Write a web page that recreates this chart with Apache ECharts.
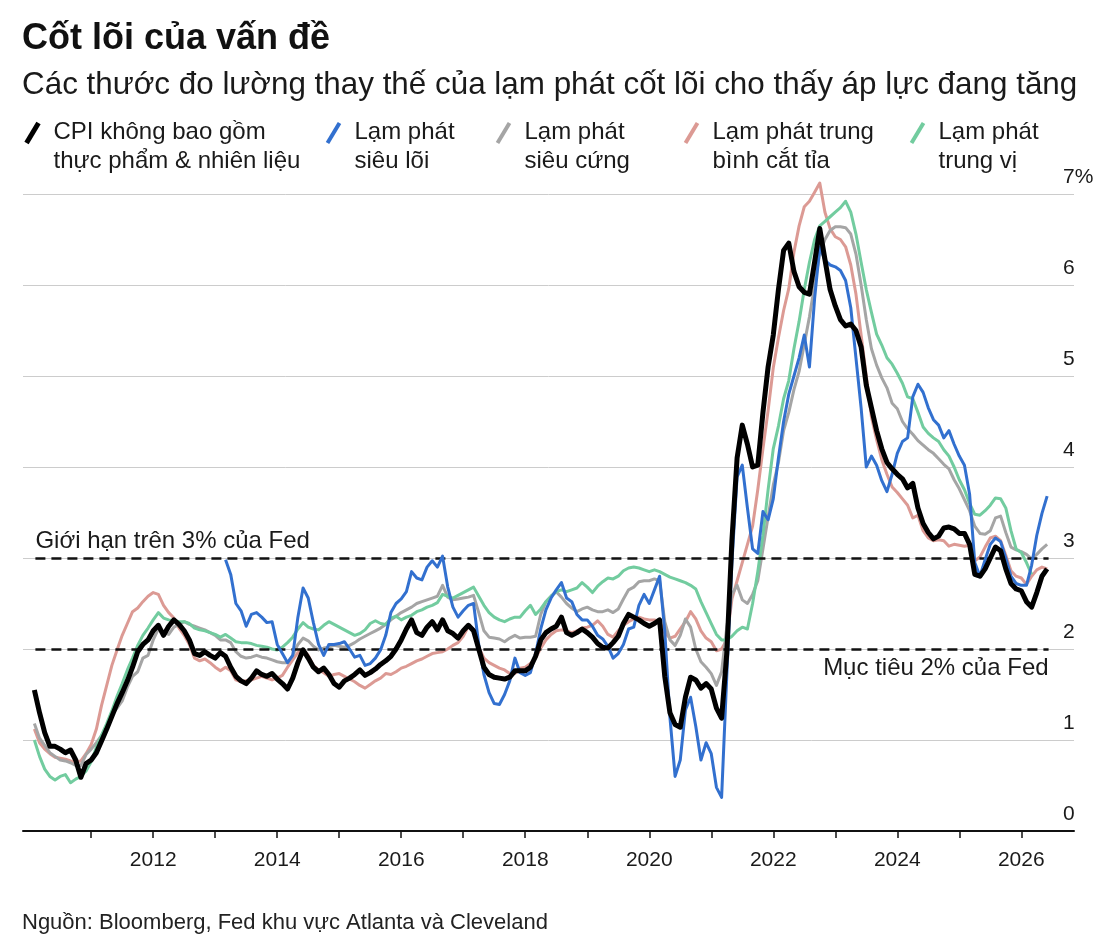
<!DOCTYPE html>
<html>
<head>
<meta charset="utf-8">
<title>Cốt lõi của vấn đề</title>
<script src="https://cdn.jsdelivr.net/npm/echarts@6/dist/echarts.min.js"></script>
<style>
  html, body { margin: 0; padding: 0; background: #fff; }
  #chart { width: 1117px; height: 944px; }
</style>
</head>
<body>
<div id="chart"></div>
<script>
// monthly readings, %; every series starts at the month given in its *Start
var cpiStart = [2010, 2];
var cpiCore = [
  1.55, 1.30, 1.08, 0.93, 0.93, 0.90, 0.86, 0.89, 0.78, 0.59, 0.74,
  0.78, 0.86, 0.99, 1.12, 1.26, 1.40, 1.52, 1.65, 1.80, 1.97, 2.05, 2.10,
  2.20, 2.26, 2.15, 2.25, 2.32, 2.27, 2.20, 2.10, 1.95, 1.93, 1.97, 1.93,
  1.90, 1.96, 1.92, 1.80, 1.70, 1.65, 1.62, 1.68, 1.76, 1.72, 1.70, 1.73,
  1.67, 1.62, 1.56, 1.68, 1.85, 1.99, 1.90, 1.80, 1.75, 1.79, 1.72, 1.62,
  1.58, 1.65, 1.68, 1.72, 1.77, 1.71, 1.74, 1.78, 1.83, 1.87, 1.92, 2.00,
  2.10, 2.22, 2.32, 2.18, 2.15, 2.24, 2.30, 2.21, 2.32, 2.20, 2.17, 2.12,
  2.20, 2.26, 2.20, 2.00, 1.80, 1.72, 1.69, 1.68, 1.67, 1.69, 1.76, 1.76,
  1.76, 1.80, 1.92, 2.10, 2.18, 2.22, 2.25, 2.35, 2.18, 2.15, 2.18, 2.22,
  2.18, 2.13, 2.06, 2.02, 2.01, 2.07, 2.14, 2.28, 2.38, 2.35, 2.32, 2.28,
  2.25, 2.28, 2.32, 1.70, 1.30, 1.17, 1.14, 1.47, 1.69, 1.66, 1.57, 1.62,
  1.56, 1.35, 1.24, 1.95, 3.20, 4.10, 4.46, 4.25, 4.00, 4.02, 4.60, 5.10,
  5.45, 5.95, 6.38, 6.46, 6.15, 5.98, 5.92, 5.90, 6.25, 6.62, 6.28, 5.95,
  5.77, 5.62, 5.55, 5.57, 5.50, 5.32, 4.90, 4.65, 4.40, 4.20, 4.05, 3.98,
  3.92, 3.87, 3.77, 3.82, 3.55, 3.38, 3.28, 3.21, 3.24, 3.33, 3.34, 3.32,
  3.27, 3.27, 3.15, 2.82, 2.80, 2.88, 3.00, 3.12, 3.08, 2.88, 2.72, 2.66,
  2.64, 2.52, 2.46, 2.62, 2.80, 2.88
];

var supercoreStart = [2013, 3];
var supercore = [
  2.98, 2.82, 2.50, 2.42, 2.25, 2.38, 2.40, 2.35, 2.29, 2.30,
  2.05, 1.95, 1.85, 1.93, 2.35, 2.67, 2.56, 2.29, 2.05, 1.93, 2.05, 2.05,
  2.06, 2.08, 2.00, 1.91, 1.93, 1.82, 1.84, 1.90, 1.99, 2.15, 2.40, 2.50,
  2.55, 2.63, 2.85, 2.78, 2.76, 2.90, 2.97, 2.90, 3.02, 2.68, 2.46, 2.35,
  2.42, 2.48, 2.50, 2.05, 1.72, 1.52, 1.40, 1.39, 1.50, 1.65, 1.90, 1.74,
  1.71, 1.74, 1.95, 2.22, 2.43, 2.56, 2.65, 2.73, 2.56, 2.52, 2.38, 2.32,
  2.32, 2.25, 2.15, 2.11, 2.03, 1.90, 1.95, 2.05, 2.22, 2.24, 2.48, 2.60,
  2.50, 2.65, 2.80, 2.20, 1.25, 0.60, 0.78, 1.33, 1.47, 1.15, 0.78, 0.97,
  0.85, 0.48, 0.37, 1.70, 2.95, 3.89, 4.02, 3.55, 3.10, 3.05, 3.51, 3.42,
  3.65, 4.10, 4.50, 4.80, 5.00, 5.20, 5.45, 5.10, 5.85, 6.42, 6.27, 6.22,
  6.20, 6.16, 6.05, 5.75, 5.20, 4.65, 4.00, 4.12, 4.02, 3.85, 3.73, 3.92,
  4.15, 4.28, 4.32, 4.77, 4.91, 4.82, 4.65, 4.52, 4.46, 4.32, 4.40, 4.25,
  4.12, 4.02, 3.70, 2.95, 2.80, 2.98, 3.15, 3.22, 3.18, 3.00, 2.80, 2.72,
  2.70, 2.70, 2.92, 3.25, 3.49, 3.68
];

var stickyStart = [2010, 2];
var sticky = [
  1.18, 1.02, 0.94, 0.86, 0.82, 0.78, 0.77, 0.75, 0.72, 0.72, 0.84,
  0.90, 0.97, 1.05, 1.16, 1.28, 1.35, 1.43, 1.58, 1.70, 1.75, 1.90, 1.93,
  2.10, 2.22, 2.18, 2.16, 2.24, 2.27, 2.30, 2.27, 2.25, 2.23, 2.21, 2.18,
  2.15, 2.10, 2.10, 2.07, 1.97, 1.92, 1.90, 1.91, 1.93, 1.91, 1.90, 1.88,
  1.86, 1.85, 1.85, 1.93, 2.05, 2.12, 2.09, 2.03, 1.99, 2.01, 2.02, 2.04,
  2.03, 2.02, 2.04, 2.07, 2.11, 2.14, 2.17, 2.20, 2.23, 2.27, 2.32, 2.36,
  2.40, 2.43, 2.46, 2.50, 2.52, 2.54, 2.56, 2.58, 2.70, 2.57, 2.54, 2.55,
  2.56, 2.57, 2.59, 2.40, 2.20, 2.13, 2.12, 2.11, 2.08, 2.12, 2.15, 2.12,
  2.13, 2.13, 2.14, 2.38, 2.52, 2.58, 2.63, 2.57, 2.50, 2.45, 2.41, 2.44,
  2.46, 2.43, 2.41, 2.41, 2.43, 2.40, 2.44, 2.55, 2.65, 2.68, 2.74, 2.75,
  2.75, 2.77, 2.75, 2.30, 2.10, 2.04, 2.15, 2.33, 2.24, 2.00, 1.86, 1.80,
  1.73, 1.60, 1.75, 2.24, 2.60, 2.70, 2.54, 2.50, 2.60, 2.75, 3.10, 3.45,
  3.80, 4.05, 4.40, 4.60, 4.85, 5.05, 5.35, 5.65, 6.00, 6.35, 6.50, 6.60,
  6.64, 6.64, 6.63, 6.56, 6.34, 6.00, 5.62, 5.30, 5.12, 4.98, 4.87, 4.70,
  4.64, 4.50, 4.42, 4.36, 4.29, 4.24, 4.19, 4.15, 4.09, 4.03, 3.98, 3.86,
  3.76, 3.64, 3.52, 3.35, 3.27, 3.26, 3.30, 3.44, 3.46, 3.28, 3.12, 3.09,
  3.07, 3.04, 2.99, 3.04, 3.10, 3.15
];

var trimmedStart = [2010, 2];
var trimmedMean = [
  1.12, 0.97, 0.90, 0.85, 0.81, 0.80, 0.79, 0.77, 0.76, 0.77, 0.85,
  0.95, 1.12, 1.38, 1.60, 1.82, 1.99, 2.15, 2.28, 2.41, 2.45, 2.52, 2.58,
  2.62, 2.60, 2.48, 2.40, 2.34, 2.23, 2.15, 2.05, 1.90, 1.87, 1.89, 1.85,
  1.80, 1.76, 1.80, 1.76, 1.66, 1.64, 1.65, 1.66, 1.68, 1.70, 1.68, 1.66,
  1.68, 1.71, 1.80, 1.88, 1.96, 1.99, 1.93, 1.82, 1.77, 1.74, 1.70, 1.72,
  1.73, 1.70, 1.67, 1.64, 1.60, 1.57, 1.61, 1.65, 1.68, 1.73, 1.72, 1.75,
  1.79, 1.81, 1.84, 1.87, 1.89, 1.92, 1.95, 1.96, 1.97, 2.00, 2.04, 2.07,
  2.14, 2.25, 2.22, 2.02, 1.90, 1.85, 1.82, 1.79, 1.77, 1.73, 1.73, 1.79,
  1.80, 1.84, 1.90, 2.01, 2.10, 2.16, 2.20, 2.21, 2.20, 2.18, 2.20, 2.23,
  2.24, 2.26, 2.31, 2.25, 2.16, 2.13, 2.20, 2.26, 2.30, 2.33, 2.35, 2.33,
  2.32, 2.32, 2.30, 2.18, 2.12, 2.14, 2.22, 2.30, 2.41, 2.33, 2.20, 2.12,
  2.08, 1.98, 2.00, 2.10, 2.55, 2.75, 2.95, 3.15, 3.35, 3.75, 4.20, 4.62,
  5.09, 5.42, 5.72, 5.96, 6.36, 6.65, 6.86, 6.92, 7.02, 7.12, 6.80, 6.62,
  6.53, 6.50, 6.42, 6.22, 5.90, 5.45, 5.00, 4.55, 4.30, 4.08, 3.92, 3.78,
  3.72, 3.65, 3.58, 3.44, 3.47, 3.30, 3.22, 3.19, 3.20, 3.19, 3.13, 3.15,
  3.14, 3.13, 3.14, 2.97, 3.01, 3.12, 3.22, 3.24, 3.19, 3.03, 2.86, 2.80,
  2.78, 2.71, 2.80, 2.87, 2.90, 2.88
];

var medianStart = [2010, 2];
var median = [
  1.00, 0.82, 0.68, 0.60, 0.56, 0.60, 0.62, 0.53, 0.57, 0.60, 0.66,
  0.76, 0.92, 1.05, 1.18, 1.32, 1.48, 1.62, 1.77, 1.90, 2.04, 2.15, 2.23,
  2.32, 2.40, 2.34, 2.32, 2.31, 2.30, 2.30, 2.28, 2.23, 2.21, 2.20, 2.18,
  2.16, 2.13, 2.16, 2.12, 2.08, 2.07, 2.07, 2.06, 2.04, 2.03, 2.02, 2.00,
  1.99, 2.02, 2.07, 2.13, 2.22, 2.29, 2.24, 2.22, 2.21, 2.26, 2.30, 2.27,
  2.24, 2.21, 2.18, 2.15, 2.17, 2.21, 2.28, 2.31, 2.28, 2.27, 2.34, 2.36,
  2.32, 2.35, 2.37, 2.41, 2.43, 2.46, 2.48, 2.51, 2.60, 2.58, 2.56, 2.59,
  2.62, 2.65, 2.68, 2.58, 2.48, 2.40, 2.35, 2.32, 2.30, 2.33, 2.35, 2.35,
  2.42, 2.48, 2.38, 2.44, 2.52, 2.58, 2.63, 2.65, 2.63, 2.65, 2.67, 2.73,
  2.68, 2.62, 2.69, 2.74, 2.78, 2.77, 2.80, 2.86, 2.89, 2.90, 2.89, 2.87,
  2.85, 2.87, 2.85, 2.82, 2.79, 2.77, 2.75, 2.73, 2.70, 2.66, 2.52, 2.40,
  2.28, 2.16, 2.10, 2.10, 2.14, 2.20, 2.24, 2.22, 2.50, 2.85, 3.25, 3.75,
  4.20, 4.45, 4.75, 4.95, 5.30, 5.60, 5.95, 6.25, 6.50, 6.65, 6.70, 6.75,
  6.80, 6.85, 6.92, 6.80, 6.56, 6.25, 5.95, 5.70, 5.46, 5.34, 5.20, 5.13,
  5.03, 4.92, 4.77, 4.75, 4.60, 4.44, 4.37, 4.32, 4.28, 4.19, 4.12, 4.00,
  3.86, 3.75, 3.60, 3.48, 3.47, 3.52, 3.58, 3.66, 3.65, 3.55, 3.30, 3.10,
  3.06, 2.95, 2.82
];

var legendLabels = [
  'CPI không bao gồm\nthực phẩm & nhiên liệu',
  'Lạm phát\nsiêu lõi',
  'Lạm phát\nsiêu cứng',
  'Lạm phát trung\nbình cắt tỉa',
  'Lạm phát\ntrung vị'
];
var colors = ['#000000', '#3270cf', '#a5a5a5', '#dc9a94', '#72cc9f'];
var legendX = [24, 325, 495, 683, 909];

var yearTicks = [2011, 2012, 2013, 2014, 2015, 2016, 2017, 2018, 2019, 2020, 2021, 2022, 2023, 2024, 2025, 2026];
var yearLabels = [2012, 2014, 2016, 2018, 2020, 2022, 2024, 2026];
var fedCap = 3, fedTarget = 2;

var FONT = '"Liberation Sans", Arial, sans-serif';

// monthly value -> [decimal year, value]
function toPoints(values, start) {
  var pts = [];
  for (var i = 0; i < values.length; i++) {
    var m = start[1] - 1 + i;
    var yr = start[0] + Math.floor(m / 12);
    pts.push([yr + (m % 12) / 12, values[i]]);
  }
  return pts;
}

function lineSeries(idx, values, start, width, z) {
  return {
    name: legendLabels[idx].replace('\n', ' '),
    type: 'line',
    data: toPoints(values, start),
    showSymbol: false,
    symbol: 'none',
    clip: false,
    z: z,
    lineStyle: { color: colors[idx], width: width, join: 'round' },
    emphasis: { disabled: true }
  };
}

var chart = echarts.init(document.getElementById('chart'), null, { renderer: 'canvas' });

var legendGraphics = legendLabels.map(function (txt, i) {
  return {
    type: 'group',
    left: legendX[i],
    top: 118,
    children: [
      {
        type: 'line',
        shape: { x1: 3, y1: 25, x2: 15, y2: 5 },
        style: { stroke: colors[i], lineWidth: i === 0 ? 5 : 4 }
      },
      {
        type: 'text',
        x: 30,
        y: 0,
        style: { text: txt, font: '24px ' + FONT, fill: '#1a1a1a', lineHeight: 29 }
      }
    ]
  };
});

var cpi = lineSeries(0, cpiCore, cpiStart, 5, 10);
cpi.markLine = {
  symbol: 'none',
  silent: true,
  animation: false,
  lineStyle: { color: '#111', type: [10, 6], width: 2.5 },
  data: [
    [
      { coord: [2010.1, fedCap], label: { show: true, position: 'insideStartTop', distance: [0, 5], formatter: 'Giới hạn trên 3% của Fed' } },
      { coord: [2026.44, fedCap] }
    ],
    [
      { coord: [2010.1, fedTarget], label: { show: true, position: 'insideEndBottom', distance: [0, 7], formatter: 'Mục tiêu 2% của Fed' } },
      { coord: [2026.44, fedTarget] }
    ]
  ],
  label: { color: '#1a1a1a', fontSize: 24, fontFamily: FONT }
};

var option = {
  backgroundColor: '#ffffff',
  animation: false,
  title: [
    { text: 'Cốt lõi của vấn đề', left: 22, top: 21, padding: 0,
      textStyle: { fontSize: 36, fontWeight: 'bold', color: '#111', fontFamily: FONT } },
    { text: 'Các thước đo lường thay thế của lạm phát cốt lõi cho thấy áp lực đang tăng', left: 22, top: 70, padding: 0,
      textStyle: { fontSize: 31.4, fontWeight: 'normal', color: '#1a1a1a', fontFamily: FONT } },
    { text: 'Nguồn: Bloomberg, Fed khu vực Atlanta và Cleveland', left: 22, top: 912, padding: 0,
      textStyle: { fontSize: 22, fontWeight: 'normal', color: '#222', fontFamily: FONT } }
  ],
  graphic: legendGraphics,
  grid: { left: 23, right: 43, top: 194, bottom: 113, containLabel: false },
  xAxis: {
    type: 'value',
    min: 2009.9,
    max: 2026.85,
    splitLine: { show: false },
    axisLine: { show: true, onZero: false, lineStyle: { color: '#111', width: 2 } },
    axisTick: { show: true, customValues: yearTicks, length: 7, lineStyle: { color: '#111', width: 1.5 } },
    axisLabel: {
      customValues: yearLabels,
      formatter: function (v) { return String(v); },
      fontSize: 21, color: '#1a1a1a', fontFamily: FONT, margin: 19
    }
  },
  yAxis: {
    type: 'value',
    position: 'right',
    min: 0,
    max: 7,
    interval: 1,
    axisLine: { show: false },
    axisTick: { show: false },
    splitLine: { lineStyle: { color: '#cccccc', width: 1 } },
    axisLabel: {
      inside: true,
      align: 'left',
      verticalAlign: 'bottom',
      margin: 11,
      padding: [0, 0, 6, 0],
      fontSize: 21,
      color: '#1a1a1a',
      fontFamily: FONT,
      formatter: function (v) { return v === 7 ? '7%' : String(v); }
    }
  },
  series: [
    lineSeries(3, trimmedMean, trimmedStart, 3, 2),
    lineSeries(2, sticky, stickyStart, 3, 3),
    lineSeries(4, median, medianStart, 3, 4),
    lineSeries(1, supercore, supercoreStart, 3, 5),
    cpi
  ]
};

chart.setOption(option);
window.addEventListener('resize', function () { chart.resize(); });
</script>
</body>
</html>
